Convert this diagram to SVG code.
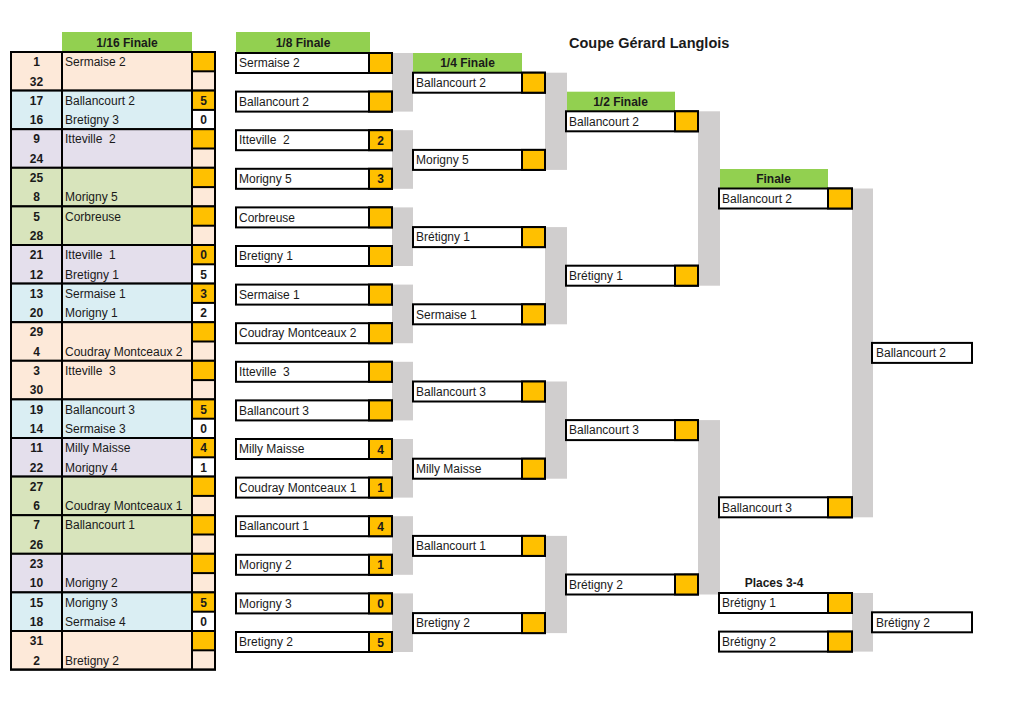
<svg xmlns="http://www.w3.org/2000/svg" xmlns:xlink="http://www.w3.org/1999/xlink" width="1024" height="724" viewBox="0 0 1024 724">
<style>
.nm{font-family:"Liberation Sans",Arial,sans-serif;font-size:12px;fill:#1a1a1a;white-space:pre}
.sd{font-family:"Liberation Sans",Arial,sans-serif;font-size:12px;font-weight:bold;fill:#1a1a1a;text-anchor:middle}
.hd{font-family:"Liberation Sans",Arial,sans-serif;font-size:12px;font-weight:bold;fill:#1a1a1a;text-anchor:middle}
.tt{font-family:"Liberation Sans",Arial,sans-serif;font-size:14.5px;font-weight:bold;fill:#1a1a1a}
.so{fill:#FFC000}
.sp{fill:#FDE9D9}
.sw{fill:#FFFFFF}
.hb{fill:#92D050}
.gr{fill:#D0CECE}
.bx{fill:#FFFFFF;stroke:#000;stroke-width:2}
.sc{fill:#FFC000;stroke:#000;stroke-width:2}
.ln{stroke:#000;stroke-width:2;fill:none}
</style>
<defs>
<g id="f16">
<rect class="ln" x="11" y="0" width="204" height="38.6"/>
<line class="ln" x1="62" y1="0" x2="62" y2="38.6"/>
<line class="ln" x1="192" y1="0" x2="192" y2="38.6"/>
<line class="ln" x1="192" y1="19.3" x2="215" y2="19.3"/>
</g>
<g id="b8"><rect class="bx" x="0" y="0" width="156" height="20"/><rect class="sc" x="133" y="0" width="23" height="20"/></g>
<g id="b4"><rect class="bx" x="0" y="0" width="132" height="20"/><rect class="sc" x="109" y="0" width="23" height="20"/></g>
<g id="bf"><rect class="bx" x="0" y="0" width="133" height="20"/><rect class="sc" x="109" y="0" width="24" height="20"/></g>
<g id="br"><rect class="bx" x="0" y="0" width="100" height="20"/></g>
</defs>
<rect width="1024" height="724" fill="#FFFFFF"/>

<text class="tt" x="569" y="48">Coupe Gérard Langlois</text>

<g id="headers">
<rect class="hb" x="62" y="32" width="130" height="20"/><text class="hd" x="127" y="46.5">1/16 Finale</text>
<rect class="hb" x="236" y="32" width="134" height="20"/><text class="hd" x="303" y="46.5">1/8 Finale</text>
<rect class="hb" x="413" y="53" width="109" height="19.7"/><text class="hd" x="467.5" y="67">1/4 Finale</text>
<rect class="hb" x="566" y="91.7" width="109" height="19.6"/><text class="hd" x="620.5" y="105.7">1/2 Finale</text>
<rect class="hb" x="719" y="169" width="109" height="19.5"/><text class="hd" x="773.5" y="183">Finale</text>
<text class="hd" x="774" y="587">Places 3-4</text>
</g>

<g id="connectors">
<rect class="gr" x="392" y="53" width="21" height="58.6"/>
<rect class="gr" x="392" y="130.2" width="21" height="58.6"/>
<rect class="gr" x="392" y="207.4" width="21" height="58.6"/>
<rect class="gr" x="392" y="284.6" width="21" height="58.6"/>
<rect class="gr" x="392" y="361.8" width="21" height="58.6"/>
<rect class="gr" x="392" y="439" width="21" height="58.6"/>
<rect class="gr" x="392" y="516.2" width="21" height="58.6"/>
<rect class="gr" x="392" y="593.4" width="21" height="58.6"/>
<rect class="gr" x="545" y="72.7" width="22" height="97.2"/>
<rect class="gr" x="545" y="227.1" width="22" height="97.2"/>
<rect class="gr" x="545" y="381.5" width="22" height="97.2"/>
<rect class="gr" x="545" y="535.9" width="22" height="97.2"/>
<rect class="gr" x="698" y="111.3" width="22" height="174.4"/>
<rect class="gr" x="698" y="420.1" width="22" height="174.4"/>
<rect class="gr" x="852" y="188.5" width="21" height="328.8"/>
<rect class="gr" x="852" y="593" width="21" height="58.6"/>
</g>

<g id="round16">
<g id="t16-01" transform="translate(0,52)">
<rect x="11" width="181" height="38.6" fill="#FDE9D9"/><rect class="so" x="192" width="23" height="19.3"/><rect class="sp" x="192" y="19.3" width="23" height="19.3"/><use href="#f16"/>
<text class="sd" x="36.5" y="14.3">1</text><text class="sd" x="36.5" y="33.6">32</text>
<text class="nm" x="65" y="14.3">Sermaise 2</text>
</g>
<g id="t16-02" transform="translate(0,90.6)">
<rect x="11" width="181" height="38.6" fill="#DAEEF3"/><rect class="so" x="192" width="23" height="19.3"/><rect class="sw" x="192" y="19.3" width="23" height="19.3"/><use href="#f16"/>
<text class="sd" x="36.5" y="14.3">17</text><text class="sd" x="36.5" y="33.6">16</text>
<text class="nm" x="65" y="14.3">Ballancourt 2</text><text class="nm" x="65" y="33.6">Bretigny 3</text>
<text class="sd" x="203.5" y="14.3">5</text><text class="sd" x="203.5" y="33.6">0</text>
</g>
<g id="t16-03" transform="translate(0,129.2)">
<rect x="11" width="181" height="38.6" fill="#E4DFEC"/><rect class="so" x="192" width="23" height="19.3"/><rect class="sp" x="192" y="19.3" width="23" height="19.3"/><use href="#f16"/>
<text class="sd" x="36.5" y="14.3">9</text><text class="sd" x="36.5" y="33.6">24</text>
<text class="nm" x="65" y="14.3" xml:space="preserve">Itteville  2</text>
</g>
<g id="t16-04" transform="translate(0,167.8)">
<rect x="11" width="181" height="38.6" fill="#D8E4BC"/><rect class="so" x="192" width="23" height="19.3"/><rect class="sp" x="192" y="19.3" width="23" height="19.3"/><use href="#f16"/>
<text class="sd" x="36.5" y="14.3">25</text><text class="sd" x="36.5" y="33.6">8</text>
<text class="nm" x="65" y="33.6">Morigny 5</text>
</g>
<g id="t16-05" transform="translate(0,206.4)">
<rect x="11" width="181" height="38.6" fill="#D8E4BC"/><rect class="so" x="192" width="23" height="19.3"/><rect class="sp" x="192" y="19.3" width="23" height="19.3"/><use href="#f16"/>
<text class="sd" x="36.5" y="14.3">5</text><text class="sd" x="36.5" y="33.6">28</text>
<text class="nm" x="65" y="14.3">Corbreuse</text>
</g>
<g id="t16-06" transform="translate(0,245)">
<rect x="11" width="181" height="38.6" fill="#E4DFEC"/><rect class="so" x="192" width="23" height="19.3"/><rect class="sw" x="192" y="19.3" width="23" height="19.3"/><use href="#f16"/>
<text class="sd" x="36.5" y="14.3">21</text><text class="sd" x="36.5" y="33.6">12</text>
<text class="nm" x="65" y="14.3" xml:space="preserve">Itteville  1</text><text class="nm" x="65" y="33.6">Bretigny 1</text>
<text class="sd" x="203.5" y="14.3">0</text><text class="sd" x="203.5" y="33.6">5</text>
</g>
<g id="t16-07" transform="translate(0,283.6)">
<rect x="11" width="181" height="38.6" fill="#DAEEF3"/><rect class="so" x="192" width="23" height="19.3"/><rect class="sw" x="192" y="19.3" width="23" height="19.3"/><use href="#f16"/>
<text class="sd" x="36.5" y="14.3">13</text><text class="sd" x="36.5" y="33.6">20</text>
<text class="nm" x="65" y="14.3">Sermaise 1</text><text class="nm" x="65" y="33.6">Morigny 1</text>
<text class="sd" x="203.5" y="14.3">3</text><text class="sd" x="203.5" y="33.6">2</text>
</g>
<g id="t16-08" transform="translate(0,322.2)">
<rect x="11" width="181" height="38.6" fill="#FDE9D9"/><rect class="so" x="192" width="23" height="19.3"/><rect class="sp" x="192" y="19.3" width="23" height="19.3"/><use href="#f16"/>
<text class="sd" x="36.5" y="14.3">29</text><text class="sd" x="36.5" y="33.6">4</text>
<text class="nm" x="65" y="33.6">Coudray Montceaux 2</text>
</g>
<g id="t16-09" transform="translate(0,360.8)">
<rect x="11" width="181" height="38.6" fill="#FDE9D9"/><rect class="so" x="192" width="23" height="19.3"/><rect class="sp" x="192" y="19.3" width="23" height="19.3"/><use href="#f16"/>
<text class="sd" x="36.5" y="14.3">3</text><text class="sd" x="36.5" y="33.6">30</text>
<text class="nm" x="65" y="14.3" xml:space="preserve">Itteville  3</text>
</g>
<g id="t16-10" transform="translate(0,399.4)">
<rect x="11" width="181" height="38.6" fill="#DAEEF3"/><rect class="so" x="192" width="23" height="19.3"/><rect class="sw" x="192" y="19.3" width="23" height="19.3"/><use href="#f16"/>
<text class="sd" x="36.5" y="14.3">19</text><text class="sd" x="36.5" y="33.6">14</text>
<text class="nm" x="65" y="14.3">Ballancourt 3</text><text class="nm" x="65" y="33.6">Sermaise 3</text>
<text class="sd" x="203.5" y="14.3">5</text><text class="sd" x="203.5" y="33.6">0</text>
</g>
<g id="t16-11" transform="translate(0,438)">
<rect x="11" width="181" height="38.6" fill="#E4DFEC"/><rect class="so" x="192" width="23" height="19.3"/><rect class="sw" x="192" y="19.3" width="23" height="19.3"/><use href="#f16"/>
<text class="sd" x="36.5" y="14.3">11</text><text class="sd" x="36.5" y="33.6">22</text>
<text class="nm" x="65" y="14.3">Milly Maisse</text><text class="nm" x="65" y="33.6">Morigny 4</text>
<text class="sd" x="203.5" y="14.3">4</text><text class="sd" x="203.5" y="33.6">1</text>
</g>
<g id="t16-12" transform="translate(0,476.6)">
<rect x="11" width="181" height="38.6" fill="#D8E4BC"/><rect class="so" x="192" width="23" height="19.3"/><rect class="sp" x="192" y="19.3" width="23" height="19.3"/><use href="#f16"/>
<text class="sd" x="36.5" y="14.3">27</text><text class="sd" x="36.5" y="33.6">6</text>
<text class="nm" x="65" y="33.6">Coudray Montceaux 1</text>
</g>
<g id="t16-13" transform="translate(0,515.2)">
<rect x="11" width="181" height="38.6" fill="#D8E4BC"/><rect class="so" x="192" width="23" height="19.3"/><rect class="sp" x="192" y="19.3" width="23" height="19.3"/><use href="#f16"/>
<text class="sd" x="36.5" y="14.3">7</text><text class="sd" x="36.5" y="33.6">26</text>
<text class="nm" x="65" y="14.3">Ballancourt 1</text>
</g>
<g id="t16-14" transform="translate(0,553.8)">
<rect x="11" width="181" height="38.6" fill="#E4DFEC"/><rect class="so" x="192" width="23" height="19.3"/><rect class="sp" x="192" y="19.3" width="23" height="19.3"/><use href="#f16"/>
<text class="sd" x="36.5" y="14.3">23</text><text class="sd" x="36.5" y="33.6">10</text>
<text class="nm" x="65" y="33.6">Morigny 2</text>
</g>
<g id="t16-15" transform="translate(0,592.4)">
<rect x="11" width="181" height="38.6" fill="#DAEEF3"/><rect class="so" x="192" width="23" height="19.3"/><rect class="sw" x="192" y="19.3" width="23" height="19.3"/><use href="#f16"/>
<text class="sd" x="36.5" y="14.3">15</text><text class="sd" x="36.5" y="33.6">18</text>
<text class="nm" x="65" y="14.3">Morigny 3</text><text class="nm" x="65" y="33.6">Sermaise 4</text>
<text class="sd" x="203.5" y="14.3">5</text><text class="sd" x="203.5" y="33.6">0</text>
</g>
<g id="t16-16" transform="translate(0,631)">
<rect x="11" width="181" height="38.6" fill="#FDE9D9"/><rect class="so" x="192" width="23" height="19.3"/><rect class="sp" x="192" y="19.3" width="23" height="19.3"/><use href="#f16"/>
<text class="sd" x="36.5" y="14.3">31</text><text class="sd" x="36.5" y="33.6">2</text>
<text class="nm" x="65" y="33.6">Bretigny 2</text>
</g>
<rect class="ln" x="11" y="52" width="204" height="617.6" stroke-width="2.5"/>
</g>

<g id="round8">
<g id="r8-01" transform="translate(236,53)"><use href="#b8"/><text class="nm" x="3" y="14.3">Sermaise 2</text></g>
<g id="r8-02" transform="translate(236,91.6)"><use href="#b8"/><text class="nm" x="3" y="14.3">Ballancourt 2</text></g>
<g id="r8-03" transform="translate(236,130.2)"><use href="#b8"/><text class="nm" x="3" y="14.3" xml:space="preserve">Itteville  2</text><text class="sd" x="144.5" y="14.5">2</text></g>
<g id="r8-04" transform="translate(236,168.8)"><use href="#b8"/><text class="nm" x="3" y="14.3">Morigny 5</text><text class="sd" x="144.5" y="14.5">3</text></g>
<g id="r8-05" transform="translate(236,207.4)"><use href="#b8"/><text class="nm" x="3" y="14.3">Corbreuse</text></g>
<g id="r8-06" transform="translate(236,246)"><use href="#b8"/><text class="nm" x="3" y="14.3">Bretigny 1</text></g>
<g id="r8-07" transform="translate(236,284.6)"><use href="#b8"/><text class="nm" x="3" y="14.3">Sermaise 1</text></g>
<g id="r8-08" transform="translate(236,323.2)"><use href="#b8"/><text class="nm" x="3" y="14.3">Coudray Montceaux 2</text></g>
<g id="r8-09" transform="translate(236,361.8)"><use href="#b8"/><text class="nm" x="3" y="14.3" xml:space="preserve">Itteville  3</text></g>
<g id="r8-10" transform="translate(236,400.4)"><use href="#b8"/><text class="nm" x="3" y="14.3">Ballancourt 3</text></g>
<g id="r8-11" transform="translate(236,439)"><use href="#b8"/><text class="nm" x="3" y="14.3">Milly Maisse</text><text class="sd" x="144.5" y="14.5">4</text></g>
<g id="r8-12" transform="translate(236,477.6)"><use href="#b8"/><text class="nm" x="3" y="14.3">Coudray Montceaux 1</text><text class="sd" x="144.5" y="14.5">1</text></g>
<g id="r8-13" transform="translate(236,516.2)"><use href="#b8"/><text class="nm" x="3" y="14.3">Ballancourt 1</text><text class="sd" x="144.5" y="14.5">4</text></g>
<g id="r8-14" transform="translate(236,554.8)"><use href="#b8"/><text class="nm" x="3" y="14.3">Morigny 2</text><text class="sd" x="144.5" y="14.5">1</text></g>
<g id="r8-15" transform="translate(236,593.4)"><use href="#b8"/><text class="nm" x="3" y="14.3">Morigny 3</text><text class="sd" x="144.5" y="14.5">0</text></g>
<g id="r8-16" transform="translate(236,632)"><use href="#b8"/><text class="nm" x="3" y="14.3">Bretigny 2</text><text class="sd" x="144.5" y="14.5">5</text></g>
</g>

<g id="round4">
<g id="r4-1" transform="translate(413,72.7)"><use href="#b4"/><text class="nm" x="3" y="14.3">Ballancourt 2</text></g>
<g id="r4-2" transform="translate(413,149.9)"><use href="#b4"/><text class="nm" x="3" y="14.3">Morigny 5</text></g>
<g id="r4-3" transform="translate(413,227.1)"><use href="#b4"/><text class="nm" x="3" y="14.3">Brétigny 1</text></g>
<g id="r4-4" transform="translate(413,304.3)"><use href="#b4"/><text class="nm" x="3" y="14.3">Sermaise 1</text></g>
<g id="r4-5" transform="translate(413,381.5)"><use href="#b4"/><text class="nm" x="3" y="14.3">Ballancourt 3</text></g>
<g id="r4-6" transform="translate(413,458.7)"><use href="#b4"/><text class="nm" x="3" y="14.3">Milly Maisse</text></g>
<g id="r4-7" transform="translate(413,535.9)"><use href="#b4"/><text class="nm" x="3" y="14.3">Ballancourt 1</text></g>
<g id="r4-8" transform="translate(413,613.1)"><use href="#b4"/><text class="nm" x="3" y="14.3">Bretigny 2</text></g>
</g>

<g id="round2">
<g id="r2-1" transform="translate(566,111.3)"><use href="#b4"/><text class="nm" x="3" y="14.3">Ballancourt 2</text></g>
<g id="r2-2" transform="translate(566,265.7)"><use href="#b4"/><text class="nm" x="3" y="14.3">Brétigny 1</text></g>
<g id="r2-3" transform="translate(566,420.1)"><use href="#b4"/><text class="nm" x="3" y="14.3">Ballancourt 3</text></g>
<g id="r2-4" transform="translate(566,574.5)"><use href="#b4"/><text class="nm" x="3" y="14.3">Brétigny 2</text></g>
</g>

<g id="final">
<g id="f-1" transform="translate(719,188.5)"><use href="#bf"/><text class="nm" x="3" y="14.3">Ballancourt 2</text></g>
<g id="f-2" transform="translate(719,497.3)"><use href="#bf"/><text class="nm" x="3" y="14.3">Ballancourt 3</text></g>
<g id="winner" transform="translate(872,342.9)"><use href="#br"/><text class="nm" x="4" y="14.3">Ballancourt 2</text></g>
</g>

<g id="places34">
<g id="p-1" transform="translate(719,593)"><use href="#bf"/><text class="nm" x="3" y="14.3">Brétigny 1</text></g>
<g id="p-2" transform="translate(719,631.6)"><use href="#bf"/><text class="nm" x="3" y="14.3">Brétigny 2</text></g>
<g id="third" transform="translate(872,612.3)"><use href="#br"/><text class="nm" x="4" y="14.3">Brétigny 2</text></g>
</g>
</svg>
